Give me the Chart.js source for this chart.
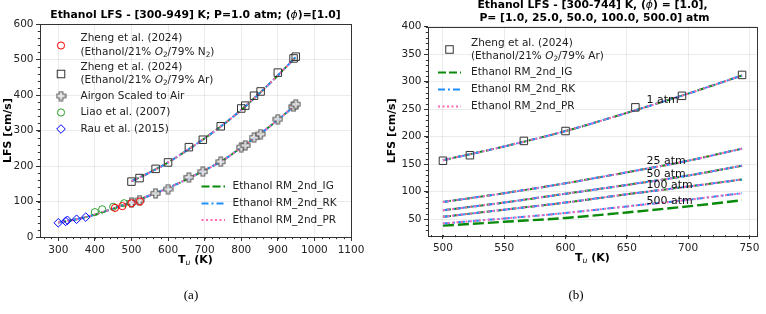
<!DOCTYPE html>
<html><head><meta charset="utf-8">
<script src="https://cdn.jsdelivr.net/npm/chart.js@4.4.0/dist/chart.umd.min.js"></script>
<style>
body{margin:0;background:#fff;width:766px;height:314px;overflow:hidden;position:relative;}
#ca{position:absolute;left:0;top:0;}
#cb{position:absolute;left:383px;top:0;}
.cap{position:absolute;top:287px;width:40px;text-align:center;font-family:"Liberation Serif";font-size:13px;color:#000;will-change:transform;-webkit-font-smoothing:antialiased;}
</style></head><body>
<canvas id="ca" width="383" height="280"></canvas>
<canvas id="cb" width="383" height="280"></canvas>
<div class="cap" style="left:171px">(a)</div>
<div class="cap" style="left:556px">(b)</div>
<script>
// ---------- Chart (a) data ----------
const xTicksA = [300,400,500,600,700,800,900,1000,1100];
const yTicksA = [0,100,200,300,400,500,600];
const zhengN2_T = [455, 475, 500, 523];
const zhengN2_LFS = [82, 87, 95, 100];
const zhengAr_T = [500, 522, 566, 600, 657, 695, 744, 800, 811, 835, 853, 900, 943, 949];
const zhengAr_LFS = [156, 166, 192, 210, 253, 274, 312, 362, 370, 398, 410, 463, 503, 508];
const airScaled_T = [500, 522, 566, 600, 657, 695, 744, 800, 811, 835, 853, 900, 943, 949];
const airScaled_LFS = [97, 104, 123, 135, 168, 184, 212, 253, 258, 280, 290, 332, 367, 374];
const liao_T = [400, 420, 450, 480];
const liao_LFS = [70, 78, 85, 95];
const rau_T = [300, 320, 325, 350, 375];
const rau_LFS = [40, 44, 47, 50, 56];
const modelAir_T = [300,350,400,450,500,550,600,650,700,750,800,850,900,949];
const igAir = [41,50,63,80,98,117,138,162,188,216,252,289,330,372];
const rkAir = [41,50,63,80,98,117,138,162,188,216,252,289,330,372];
const prAir = [41,50,63,80,98,117,138,162,188,216,252,289,330,372];
const modelAr_T = [500,550,600,650,700,750,800,850,900,949];
const igAr = [157,182,210,243,278,316,358,405,455,507];
const rkAr = [157,182,210,243,278,316,358,405,455,507];
const prAr = [157,182,210,243,278,316,358,405,455,507];

// ---------- Chart (b) data ----------
const xTicksB = [500,550,600,650,700,750];
const yTicksB = [50,100,150,200,250,300,350,400];
const zhengB_T = [500, 522, 566, 600, 657, 695, 744];
const zhengB_LFS = [156, 166, 192, 210, 253, 274, 312];
const modelB_T = [500,550,600,650,700,744];
const ig1 = [157,182,210,243,278,311];
const rk1 = [157,182,210,243,278,311];
const pr1 = [157,182,210,243,278,311];
const ig25 = [81,97,115,135,156,178];
const rk25 = [81,97,115,135,156,178];
const pr25 = [81,97,115,135,156,178];
const ig50 = [66,80,96,112,129,147];
const rk50 = [66,80,96,112,129,147];
const pr50 = [66,80,96,112,129,147];
const ig100 = [54,67,80,95,109,122];
const rk100 = [54,67,80,95,109,122];
const pr100 = [54,67,80,95,109,122];
const ig500 = [38,45,52,62,73,84];
const rk500 = [42,51,61,73,85,97];
const pr500 = [42,51,61,73,85,97];
const pLabels = ['1 atm','25 atm','50 atm','100 atm','500 atm'];
const pLabel_T = [666,666,666,666,666];
const pLabel_LFS = [266,156,132,112,82];

// ---------- styles ----------
const FONT = '"DejaVu Sans"';
Chart.defaults.font.family = FONT;
const GREEN = '#0a8a0a', BLUE = '#1e90ff', PINK = '#ff69b4';
const IGDASH = [8,3], RKDASH = [7,3,2,3], PRDASH = [2,2.5];
const IGDASH_B500 = [11,4];
const GRID = 'rgba(0,0,0,0.08)', AX = '#333';

function pts(xs, ys){ return xs.map((x,i)=>({x:x,y:ys[i]})); }
function plusMarker(s, stroke, fill){
  const c = document.createElement('canvas'); c.width = c.height = s+2;
  const g = c.getContext('2d'); const o=1, cx=s/2+1, w=s*0.38;
  g.beginPath();
  const P=[[cx-w/2,o],[cx+w/2,o],[cx+w/2,cx-w/2],[o+s,cx-w/2],[o+s,cx+w/2],[cx+w/2,cx+w/2],[cx+w/2,o+s],[cx-w/2,o+s],[cx-w/2,cx+w/2],[o,cx+w/2],[o,cx-w/2],[cx-w/2,cx-w/2]];
  P.forEach((p,i)=> i? g.lineTo(p[0],p[1]) : g.moveTo(p[0],p[1]));
  g.closePath(); g.fillStyle=fill; g.fill(); g.strokeStyle=stroke; g.lineWidth=1.1; g.stroke();
  return c;
}
const PLUS = plusMarker(9, '#555', 'rgba(235,235,235,0.8)');

function lineDS(xs, ys, color, dash, w){
  return {data: pts(xs,ys), showLine:true, pointRadius:0, borderColor:color, borderWidth:w||2,
          borderDash:dash, cubicInterpolationMode:'monotone', fill:false};
}
function scatDS(xs, ys, style, color, r){
  return {data: pts(xs,ys), showLine:false, pointStyle:style, pointRadius:r, borderColor:color,
          backgroundColor:'rgba(0,0,0,0)', pointBorderWidth:1};
}

function rich(ctx, segs, x, y, align, size, color){
  let total=0;
  const parts = segs.map(s=>{
    const sz = s.sub ? size*0.7 : size;
    const f = (s.i?'italic ':'')+(s.b?'bold ':'')+sz+'px '+FONT;
    ctx.font=f; const w=ctx.measureText(s.t).width; total+=w;
    return {f:f,w:w,t:s.t,dy:s.sub?size*0.28:0};
  });
  let cx = align==='center' ? x-total/2 : (align==='right' ? x-total : x);
  ctx.save(); ctx.fillStyle=color||'#000'; ctx.textAlign='left'; ctx.textBaseline='middle';
  parts.forEach(p=>{ ctx.font=p.f; ctx.fillText(p.t,cx,y+p.dy); cx+=p.w; });
  ctx.restore();
}
function drawFrameAndMinor(chart, xMinor, yMinor){
  const ctx=chart.ctx, a=chart.chartArea, xs=chart.scales.x, ys=chart.scales.y;
  ctx.save(); ctx.strokeStyle=AX; ctx.lineWidth=1;
  ctx.beginPath();
  for(let v=Math.ceil(xs.min/xMinor)*xMinor; v<=xs.max; v+=xMinor){
    const p=Math.round(xs.getPixelForValue(v))+0.5; ctx.moveTo(p,a.bottom); ctx.lineTo(p,a.bottom+2.2);
  }
  for(let v=Math.ceil(ys.min/yMinor)*yMinor; v<=ys.max; v+=yMinor){
    const p=Math.round(ys.getPixelForValue(v))+0.5; ctx.moveTo(a.left,p); ctx.lineTo(a.left-2.2,p);
  }
  ctx.stroke();
  ctx.strokeRect(Math.round(a.left)+0.5, Math.round(a.top)+0.5, Math.round(a.right-a.left), Math.round(a.bottom-a.top));
  ctx.restore();
}
function legendLine(ctx, x1, x2, y, color, dash, label, tx){
  ctx.save(); ctx.strokeStyle=color; ctx.lineWidth=2; ctx.setLineDash(dash);
  ctx.beginPath(); ctx.moveTo(x1,y); ctx.lineTo(x2,y); ctx.stroke(); ctx.restore();
  rich(ctx, [{t:label}], tx, y, 'left', 10.5, '#222');
}
function drawSquare(ctx,x,y,s,color){ ctx.save(); ctx.strokeStyle=color; ctx.lineWidth=1; ctx.strokeRect(x-s/2,y-s/2,s,s); ctx.restore(); }
function drawCircle(ctx,x,y,r,color){ ctx.save(); ctx.strokeStyle=color; ctx.lineWidth=1; ctx.beginPath(); ctx.arc(x,y,r,0,Math.PI*2); ctx.stroke(); ctx.restore(); }
function drawDiamond(ctx,x,y,r,color){ ctx.save(); ctx.strokeStyle=color; ctx.lineWidth=1; ctx.beginPath(); ctx.moveTo(x,y-r); ctx.lineTo(x+r,y); ctx.lineTo(x,y+r); ctx.lineTo(x-r,y); ctx.closePath(); ctx.stroke(); ctx.restore(); }
function axisTitles(ctx, a, xY, yX){
  const cx=(a.left+a.right)/2, cy=(a.top+a.bottom)/2;
  rich(ctx,[{t:'T',b:1},{t:'u',i:1,sub:1},{t:' (K)',b:1}], cx, xY, 'center', 11);
  ctx.save(); ctx.translate(yX, cy); ctx.rotate(-Math.PI/2);
  rich(ctx,[{t:'LFS [cm/s]',b:1}],0,0,'center',11); ctx.restore();
}

function scaleOpts(min,max,ticksArr,isX,size){
  return {type:'linear', min:min, max:max,
    afterBuildTicks: s=>{ s.ticks = ticksArr.map(v=>({value:v})); },
    afterFit: s=>{ if(isX) s.height=size; else s.width=size; },
    grid:{color:GRID, tickColor:AX, tickLength:4, lineWidth:1},
    border:{display:false},
    ticks:{font:{size:10.5,family:FONT}, color:'#222', padding:2.5, maxRotation:0, autoSkip:false,
           callback: v => String(v)}
  };
}

// ---------- Chart (a) ----------
const plugA = { id:'plugA', afterDraw(chart){
  const ctx=chart.ctx, a=chart.chartArea;
  drawFrameAndMinor(chart, 20, 20);
  rich(ctx,[{t:'Ethanol LFS - [300-949] K; P=1.0 atm; (',b:1},{t:'ϕ',i:1},{t:')=[1.0]',b:1}],(a.left+a.right)/2,15,'center',10.8);
  axisTitles(ctx,a,260,8);
  // legend 1
  const mx=61, tx=80.5, C='#222';
  drawCircle(ctx,mx,45.5,3.6,'red');
  rich(ctx,[{t:'Zheng et al. (2024)'}],tx,38.5,'left',10.5,C);
  rich(ctx,[{t:'(Ethanol/21% '},{t:'O',i:1},{t:'2',sub:1},{t:'/79% N'},{t:'2',sub:1},{t:')'}],tx,52,'left',10.5,C);
  drawSquare(ctx,mx,74,7.5,'#333');
  rich(ctx,[{t:'Zheng et al. (2024)'}],tx,67,'left',10.5,C);
  rich(ctx,[{t:'(Ethanol/21% '},{t:'O',i:1},{t:'2',sub:1},{t:'/79% Ar)'}],tx,80,'left',10.5,C);
  ctx.drawImage(PLUS, mx-PLUS.width/2, 96-PLUS.height/2);
  rich(ctx,[{t:'Airgon Scaled to Air'}],tx,96,'left',10.5,C);
  drawCircle(ctx,mx,112.5,3.6,'#2ca02c');
  rich(ctx,[{t:'Liao et al. (2007)'}],tx,112.5,'left',10.5,C);
  drawDiamond(ctx,mx,129,4.3,'blue');
  rich(ctx,[{t:'Rau et al. (2015)'}],tx,129,'left',10.5,C);
  // legend 2
  legendLine(ctx,201.5,225,186.5,GREEN,IGDASH,'Ethanol RM_2nd_IG',232.5);
  legendLine(ctx,201.5,225,203.5,BLUE,RKDASH,'Ethanol RM_2nd_RK',232.5);
  legendLine(ctx,201.5,225,220,PINK,PRDASH,'Ethanol RM_2nd_PR',232.5);
}};
new Chart(document.getElementById('ca'), {
  type:'scatter',
  data:{datasets:[
    scatDS(zhengN2_T, zhengN2_LFS, 'circle', 'red', 3.6),
    scatDS(liao_T, liao_LFS, 'circle', '#2ca02c', 3.6),
    scatDS(rau_T, rau_LFS, 'rectRot', 'blue', 4.3),
    scatDS(zhengAr_T, zhengAr_LFS, 'rect', '#333', 5.3),
    scatDS(airScaled_T, airScaled_LFS, PLUS, '#555', 5),
    lineDS(modelAir_T, prAir, PINK, PRDASH),
    lineDS(modelAr_T, prAr, PINK, PRDASH),
    lineDS(modelAir_T, rkAir, BLUE, RKDASH),
    lineDS(modelAr_T, rkAr, BLUE, RKDASH),
    lineDS(modelAir_T, igAir, GREEN, IGDASH),
    lineDS(modelAr_T, igAr, GREEN, IGDASH)
  ]},
  options:{responsive:false, animation:false,
    layout:{padding:{top:24,left:0,right:32,bottom:23}},
    plugins:{legend:{display:false},tooltip:{enabled:false}},
    scales:{ x:scaleOpts(250,1100,xTicksA,true,20), y:scaleOpts(0,600,yTicksA,false,40) }
  },
  plugins:[plugA]
});

// ---------- Chart (b) ----------
const plugB = { id:'plugB', afterDraw(chart){
  const ctx=chart.ctx, a=chart.chartArea, xs=chart.scales.x, ys=chart.scales.y;
  drawFrameAndMinor(chart, 10, 10);
  const cx=(a.left+a.right)/2;
  rich(ctx,[{t:'Ethanol LFS - [300-744] K, (',b:1},{t:'ϕ',i:1},{t:') = [1.0],',b:1}],cx,5.5,'center',10.8);
  rich(ctx,[{t:'P= [1.0, 25.0, 50.0, 100.0, 500.0] atm',b:1}],cx+2,18.5,'center',10.8);
  axisTitles(ctx,a,258,9);
  const C='#222';
  drawSquare(ctx,66.5,49.5,7.5,'#333');
  rich(ctx,[{t:'Zheng et al. (2024)'}],88,43.5,'left',10.5,C);
  rich(ctx,[{t:'(Ethanol/21% '},{t:'O',i:1},{t:'2',sub:1},{t:'/79% Ar)'}],88,56,'left',10.5,C);
  legendLine(ctx,55,78,72.5,GREEN,IGDASH,'Ethanol RM_2nd_IG',88);
  legendLine(ctx,55,78,89.5,BLUE,RKDASH,'Ethanol RM_2nd_RK',88);
  legendLine(ctx,55,78,106.5,PINK,PRDASH,'Ethanol RM_2nd_PR',88);
  pLabels.forEach((l,i)=>{
    rich(ctx,[{t:l}], xs.getPixelForValue(pLabel_T[i]), ys.getPixelForValue(pLabel_LFS[i]), 'left', 11, '#111');
  });
}};
new Chart(document.getElementById('cb'), {
  type:'scatter',
  data:{datasets:[
    scatDS(zhengB_T, zhengB_LFS, 'rect', '#333', 5.3),
    lineDS(modelB_T, pr1, PINK, PRDASH), lineDS(modelB_T, pr25, PINK, PRDASH), lineDS(modelB_T, pr50, PINK, PRDASH),
    lineDS(modelB_T, pr100, PINK, PRDASH), lineDS(modelB_T, pr500, PINK, PRDASH),
    lineDS(modelB_T, rk1, BLUE, RKDASH), lineDS(modelB_T, rk25, BLUE, RKDASH), lineDS(modelB_T, rk50, BLUE, RKDASH),
    lineDS(modelB_T, rk100, BLUE, RKDASH), lineDS(modelB_T, rk500, BLUE, RKDASH),
    lineDS(modelB_T, ig1, GREEN, IGDASH), lineDS(modelB_T, ig25, GREEN, IGDASH), lineDS(modelB_T, ig50, GREEN, IGDASH),
    lineDS(modelB_T, ig100, GREEN, IGDASH), lineDS(modelB_T, ig500, GREEN, IGDASH_B500, 2.4)
  ]},
  options:{responsive:false, animation:false,
    layout:{padding:{top:26.5,left:0,right:9,bottom:25}},
    plugins:{legend:{display:false},tooltip:{enabled:false}},
    scales:{ x:scaleOpts(487.8,756.2,xTicksB,true,20), y:scaleOpts(21,400,yTicksB,false,45) }
  },
  plugins:[plugB]
});
</script>
</body></html>
